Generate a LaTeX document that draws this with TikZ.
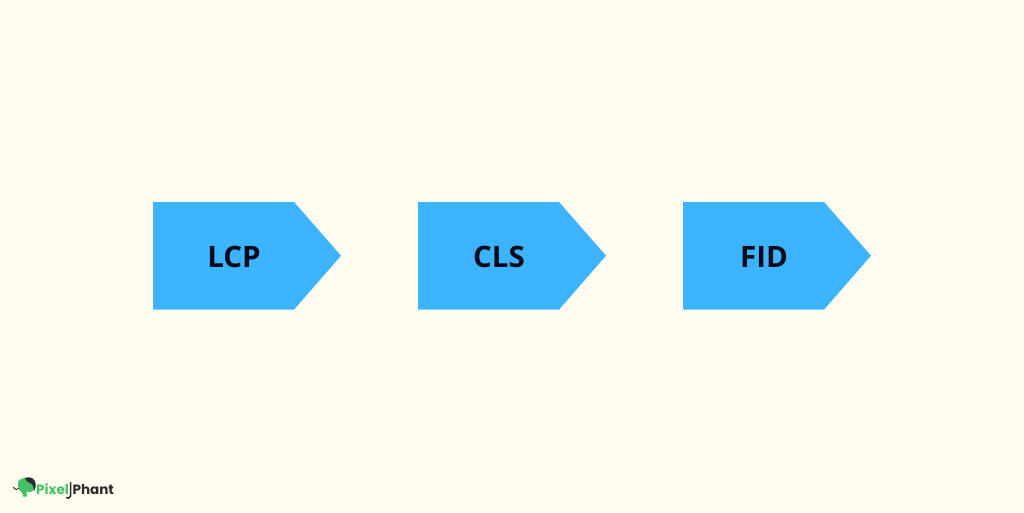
\documentclass[tikz,border=0pt]{standalone}
\usepackage{fontspec}
\setmainfont{Open Sans}
\newfontfamily\logofont{Poppins}
\definecolor{paper}{HTML}{FFFBEF}
\definecolor{tagblue}{HTML}{3DB4FF}
\definecolor{tagink}{HTML}{04091C}
\definecolor{logogreen}{HTML}{45C263}
\definecolor{logoink}{HTML}{2B2B2B}
\tikzset{
  tag/.style = {fill = tagblue},
  taglabel/.style = {font = \fontsize{29.5}{31}\selectfont\bfseries, text = tagink, inner sep = 0pt},
  logotext/.style = {font = \fontsize{13.5}{15}\selectfont\logofont\bfseries, inner sep = 0pt, anchor = base west}
}
\begin{document}
\begin{tikzpicture}[x = 1pt, y = -1pt]
    \useasboundingbox (0,0) rectangle (1024,512);
    \fill [paper] (0,0) rectangle (1024,512);
    \fill [tag] (153,202) -- (294,202) -- (341,255.7) -- (294,309.6) -- (153,309.6) -- cycle;
    \fill [tag] (418,202) -- (559,202) -- (606,255.7) -- (559,309.6) -- (418,309.6) -- cycle;
    \fill [tag] (683,202) -- (824,202) -- (871,255.7) -- (824,309.6) -- (683,309.6) -- cycle;
    \node [taglabel] (lcp) at (234,257) {LCP};
    \node [taglabel] (cls) at (499,257) {CLS};
    \node [taglabel] (fid) at (764,257) {FID};
    % logo
    \fill [logogreen] (18,482) .. controls (19,478.5) and (25,477.5) .. (29,478) -- (34,484) -- (34,490) .. controls (31,493) and (28,492.5) .. (26.5,491.5) -- (27,496.5) -- (23,496.5) .. controls (23.5,493) and (21,491.5) .. (19.5,490) .. controls (18,488) and (17.5,485) .. (18,482) -- cycle;
    \fill [logoink] (25,478) .. controls (30,476) and (35,478.5) .. (35.5,483) .. controls (36,486) and (35.5,489) .. (34,491) .. controls (34,487) and (32.5,483.5) .. (29,482.5) .. controls (27,482) and (25.5,480.5) .. (25,478) -- cycle;
    \draw [logoink, line width = 0.9pt, line cap = round] (19,488.5) .. controls (17,490.5) and (15,489.5) .. (13.5,487.5);
    \node [logotext, text = logogreen] (pixel) at (36,494) {Pixel};
    \draw [logoink, line width = 1.5pt] (70.5,482) -- (70.5,496) .. controls (70.5,498.5) and (67,498.5) .. (66,497.5);
    \node [logotext, text = logoink] (phant) at (72.5,494) {Phant};
\end{tikzpicture}
\end{document}
